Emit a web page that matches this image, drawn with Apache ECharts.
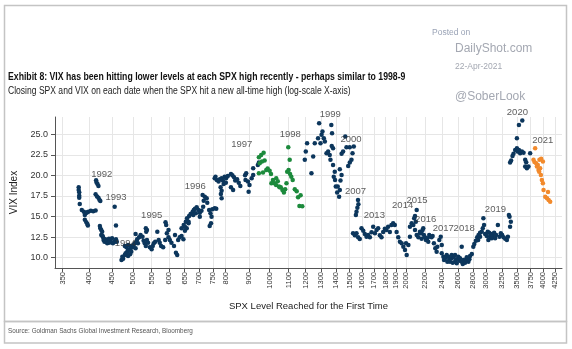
<!DOCTYPE html>
<html><head><meta charset="utf-8">
<script src="https://cdn.jsdelivr.net/npm/echarts@6/dist/echarts.min.js"></script>
<style>html,body{margin:0;padding:0;background:#fff}#c{width:572px;height:349px}</style>
</head><body><div id="c"></div>
<script>
// ---- data (SPX level, VIX close) ----
const xTickValues = [350,400,450,500,550,600,650,700,750,800,900,1000,1100,1200,1300,1400,1500,1600,1700,1800,1900,2000,2200,2400,2600,2800,3000,3250,3500,3750,4000,4250];
const yTickValues = [10,12.5,15,17.5,20,22.5,25];

const darkPoints = [
[380,18.56],[380,18.24],[381,17.96],[381,17.54],[381,17.3],[382,16.53],
[386,15.8],[390,15.6],[395,15.45],[399,15.6],[404,15.7],[409,15.65],[392,15.2],[396,15.5],[414,15.75],
[392,14.6],[395,14.3],[397,14.1],[398,13.9],
[415,19.4],[416,19.15],[418,18.95],[420,18.7],
[414,17.7],[417,17.45],[420,17.3],[422,17.05],[424,16.9],
[456,16.2],[459,13.9],
[423,13.86],[424,13.58],[426,13.37],[428,13.16],[426,12.76],[429,12.64],[430,12.48],[431,12.15],[433,11.95],[435,12.24],[438,12.07],[443,12.31],[446,12.15],[450,12.36],[439,11.75],[443,11.82],[448,11.87],[452,11.75],[456,11.95],[459,12.24],[461,11.95],
[472,9.72],[476,9.88],[474,10.12],[480,10.33],[482,10.53],[486,10.73],[488,10.94],[493,11.02],[484,11.27],[480,11.42],[488,11.54],[494,11.42],[499,11.27],[502,11.54],[505,11.75],[509,11.95],[513,11.75],[507,11.14],[496,10.73],[493,10.41],[488,10.21],
[511,12.24],[516,12.48],[520,12.76],[525,12.55],[528,12.07],[531,11.75],[534,11.42],[537,12.15],[535,13.16],[540,11.82],[545,11.27],[550,11.02],[553,11.42],[556,11.75],[560,11.95],[566,13.16],[570,12.15],[573,11.82],[577,11.42],[583,11.27],[589,12.15],[592,13.98],[594,12.97],[599,12.48],[603,12.15],[608,11.82],[616,11.42],[622,10.61],[626,10.33],[629,12.15],[634,12.48],[640,12.64],[646,12.24],[651,13.28],[657,13.58],[663,14.18],[619,12.76],[599,13.37],[534,13.58],[537,13.37],[507,12.88],[590,14.3],
[640,13.58],[647,13.98],[654,14.38],[658,14.79],[665,15.07],[670,15.32],[677,15.6],[681,15.8],[685,15.96],[691,16.13],[697,15.8],[688,15.4],[702,15.47],[708,15.72],[714,16.2],[716,16.93],[720,17.42],[712,17.63],[727,17.23],[729,16.69],[736,15.8],[741,15.4],[745,14.99],[743,14.18],[738,13.86],[748,15.89],[757,16.01],[763,15.96],[702,14.99],[679,15.19],[663,14.38],[651,13.77],
[757,19.66],[760,19.85],[765,19.45],[772,19.25],[777,19.54],[784,19.66],[789,19.37],[796,19.85],[802,19.66],[809,19.94],[780,18.56],[784,18.15],[792,18.97],[801,19.12],[822,20.18],[828,20.02],[835,19.78],[840,19.37],[848,19.54],[855,19.12],[862,18.72],[883,20.02],[888,20.27],[885,19.45],[896,19.25],[903,18.84],[899,18.03],[913,19.66],[920,20.06],[781,17.75],[784,17.23],[822,18.56],[831,18.24],[942,21.28],[947,21.56],[920,20.87],
[1195,21.89],[1201,22.9],[1209,23.92],[1236,20.27],[1247,22.29],[1257,23.92],[1278,24.53],[1285,26.35],[1294,23.92],[1301,24.93],[1307,25.33],[1316,24.53],[1323,24.12],[1334,22.7],[1345,22.9],[1356,22.49],[1361,21.89],[1367,26.14],[1372,25.13],[1370,23.59],[1379,23.31],[1379,21.28],[1391,20.46],[1384,19.85],[1393,19.45],[1398,18.64],[1412,18.64],[1427,18.24],[1422,17.42],[1408,17.91],[1432,19.37],[1440,20.06],[1427,20.75],[1440,22.62],[1451,22.9],[1476,23.43],[1467,24.72],[1501,23.43],[1514,21.89],[1522,22.7],[1532,23.51],[1501,21.56],[1489,21.16],
[1565,17.02],[1568,16.5],[1560,16.08],[1553,15.6],[1548,15.19],
[1526,12.97],[1540,12.72],[1553,12.97],[1566,12.48],[1579,12.27],[1593,13.58],[1607,13.28],[1620,12.88],[1634,12.55],[1648,12.76],[1662,12.48],[1676,13.09],[1690,13.77],[1705,12.97],[1719,13.37],[1733,13.58],[1748,12.72],[1763,12.48],[1778,13.13],[1793,13.53],[1808,13.37],[1823,13.77],[1839,13.13],[1854,13.98],[1870,14.18],[1886,13.98],[1903,13.13],[1919,12.48],[1935,11.95],[1952,11.75],[1969,11.34],[1986,10.94],[2003,10.33],[1996,11.75],[2020,11.54],[2036,12.55],[2036,13.77],[2054,14.18],[2071,13.98],[2089,13.37],[2107,12.76],[2125,12.48],[2142,12.97],[2160,12.31],[2107,15.8],[2089,15.07],[2080,14.79],[2098,14.38],
[2142,13.16],[2160,12.97],[2171,13.37],[2185,12.76],[2197,12.48],[2208,12.15],[2223,12.36],[2234,11.95],[2245,12.76],[2261,12.55],[2272,12.48],[2284,12.64],[2299,11.75],[2315,11.14],[2331,10.73],[2339,11.34],[2363,12.15],[2380,12.55],[2392,11.54],[2178,13.58],
[2392,10.53],[2412,10.12],[2420,9.72],[2433,9.93],[2453,10.33],[2461,9.52],[2474,10.12],[2486,9.8],[2494,9.52],[2516,9.93],[2529,9.39],[2537,10.12],[2559,9.52],[2572,9.8],[2581,9.32],[2602,10.12],[2615,9.64],[2624,9.93],[2647,9.52],[2661,9.23],[2669,9.72],[2692,9.39],[2706,9.72],[2715,10.05],[2738,9.52],[2752,9.8],[2761,10.21],[2786,10.45],[2647,11.34],[2516,10.33],[2559,10.33],
[2807,11.34],[2821,11.67],[2844,12.07],[2863,12.48],[2883,12.76],[2905,13.04],[2930,13.16],[2945,13.58],[2964,13.98],[2954,14.79],[2980,12.88],[3005,12.64],[3020,13.16],[3041,13.04],[3056,12.55],[3072,12.88],[3098,12.64],[3119,13.04],[3135,12.36],[3151,12.76],[3179,13.98],[3206,12.55],[3227,12.97],[3249,12.76],[3272,12.48],[3300,12.31],[3328,12.15],[3345,12.55],[3362,15.19],[3373,14.99],[3382,13.77],[3395,14.38],[3082,12.36],[3030,12.15],[2905,12.55],[2877,12.15],
[3382,21.56],[3400,21.8],[3424,22.37],[3441,22.62],[3471,23.1],[3501,23.31],[3512,22.9],[3537,23.1],[3559,22.7],[3501,24.53],[3537,26.14],[3598,26.67],[3621,22.77],[3651,21.89],[3670,21.61],[3651,21.07],[3683,20.87],[3713,21.07],[3744,22.7],[3590,22.9]
];

const greenPoints = [
[947,22.21],[958,22.49],[970,22.77],[975,21.8],[962,21.68],[951,21.48],[947,20.27],[967,20.35],[983,20.67],[990,20.83],[1000,20.58],[1007,20.18],[1017,19.45],[1024,19.05],[1033,18.84],[1042,19.29],[1049,18.64],[1058,18.56],[1067,18.24],[1075,17.91],[1082,18.32],[1093,20.46],[1101,20.67],[1109,20.18],[1116,19.85],[1124,19.45],[1136,18.32],[1147,18.08],[1163,16.29],[1155,17.35],[1099,23.43],[1107,21.89],[1052,18.56],[1034,19.66],[1009,19.05],[1089,19.05],[1180,16.25],[1170,17.6]
];

const orangePoints = [
[3840,23.31],[3808,21.89],[3827,21.64],[3860,21.48],[3893,21.28],[3925,21.89],[3959,22.04],[3874,21.07],[3906,20.67],[3939,20.87],[3953,20.06],[3973,19.45],[3994,19.05],[4007,18.24],[4042,17.42],[4078,17.23],[4112,17.02],[4144,16.81],[4099,18.0],[3994,21.68],[3919,20.46]
];

const yearLabels = ['1992','1993','1994','1995','1996','1997','1998','1999','2000','2007','2013','2014','2015','2016','2017','2018','2019','2020','2021'];
const yearLabelSpx = [427,459,481,550,686,868,1110,1360,1510,1545,1700,1962,2110,2205,2410,2680,3140,3510,3990];
const yearLabelVix = [20.1,17.3,11.8,15.1,18.7,23.8,25.0,27.4,24.4,18.1,15.1,16.3,17.0,14.7,13.6,13.6,15.9,27.7,24.3];

const titleText = 'Exhibit 8: VIX has been hitting lower levels at each SPX high recently - perhaps similar to 1998-9';
const subtitleText = 'Closing SPX and VIX on each date when the SPX hit a new all-time high (log-scale X-axis)';
const sourceText = 'Source: Goldman Sachs Global Investment Research, Bloomberg';
const xAxisTitle = 'SPX Level Reached for the First Time';
const yAxisTitle = 'VIX Index';

// ---- chart ----
const SANS = "'Liberation Sans',Arial,sans-serif";
const chart = echarts.init(document.getElementById('c'), null, {renderer:'canvas'});

function txt(text, x, y, font, fill, sx) {
  return {type:'text', x:x, y:y, scaleX:sx||1, silent:true, z:10,
    style:{text:text, font:font, fill:fill, textAlign:'left', textVerticalAlign:'middle', align:'left', verticalAlign:'middle'}};
}

const option = {
  animation:false,
  backgroundColor:'#fff',
  grid:{left:55, right:10, top:117, bottom:81},
  xAxis:{
    type:'log', logBase:10, min:337, max:4400,
    name:xAxisTitle, nameLocation:'middle', nameGap:33,
    nameTextStyle:{fontSize:9.5, color:'#222', fontFamily:SANS},
    axisLine:{show:true, onZero:false, lineStyle:{color:'#555', width:1}},
    axisTick:{show:true, customValues:xTickValues, length:4, lineStyle:{color:'#555'}},
    axisLabel:{customValues:xTickValues, rotate:90, fontSize:7.5, color:'#333', margin:4, fontFamily:SANS,
      formatter:function(v){return String(Math.round(v));}},
    splitLine:{show:true, lineStyle:{color:'#e6e6e6', width:1}},
    minorTick:{show:false}, minorSplitLine:{show:false}
  },
  yAxis:{
    type:'value', min:8.75, max:27.1,
    name:yAxisTitle, nameLocation:'middle', nameGap:25, nameRotate:90,
    nameTextStyle:{fontSize:10, color:'#222', fontFamily:SANS},
    axisLine:{show:true, lineStyle:{color:'#555', width:1}},
    axisTick:{show:true, customValues:yTickValues, length:4, lineStyle:{color:'#555'}},
    axisLabel:{customValues:yTickValues, fontSize:9, color:'#333', margin:7, fontFamily:SANS,
      formatter:function(v){return Number(v).toFixed(1);}},
    splitLine:{show:true, lineStyle:{color:'#e6e6e6', width:1}}
  },
  series:[
    {type:'scatter', name:'labels', clip:false, silent:true, symbolSize:1,
     itemStyle:{color:'rgba(0,0,0,0)'},
     data: yearLabels.map(function(t,i){return {name:t, value:[yearLabelSpx[i], yearLabelVix[i]]};}),
     label:{show:true, position:'inside', formatter:function(p){return p.name;}, fontSize:9.5, color:'#333', fontFamily:SANS}},
    {type:'scatter', name:'SPX highs', symbolSize:4.5, data:darkPoints, itemStyle:{color:'#0c365c', opacity:1}},
    {type:'scatter', name:'1998', symbolSize:4.5, data:greenPoints, itemStyle:{color:'#1c8a3c', opacity:1}},
    {type:'scatter', name:'2021', symbolSize:4.5, data:orangePoints, itemStyle:{color:'#f28a2c', opacity:1}}
  ],
  graphic:[
    {type:'rect', silent:true, shape:{x:4.5, y:5.5, width:562, height:316}, style:{fill:null, stroke:'#c4c4c4', lineWidth:1.5}},
    {type:'rect', silent:true, shape:{x:4.5, y:321.5, width:562, height:21.5}, style:{fill:null, stroke:'#c4c4c4', lineWidth:1.5}},
    txt('Posted on', 432, 33, '8.5px ' + SANS, '#9aa3b6'),
    txt('DailyShot.com', 455, 49, '12px ' + SANS, '#a4a8b2'),
    txt('22-Apr-2021', 455, 67, '8.5px ' + SANS, '#a4a8b2'),
    txt('@SoberLook', 455, 97, '12px ' + SANS, '#a4a8b2'),
    txt(titleText, 8, 77, 'bold 10px ' + SANS, '#111', 0.87),
    txt(subtitleText, 8, 91, '10px ' + SANS, '#222', 0.855),
    txt(sourceText, 8, 331, '7.5px ' + SANS, '#555', 0.846)
  ]
};
chart.setOption(option);
</script>
</body></html>
